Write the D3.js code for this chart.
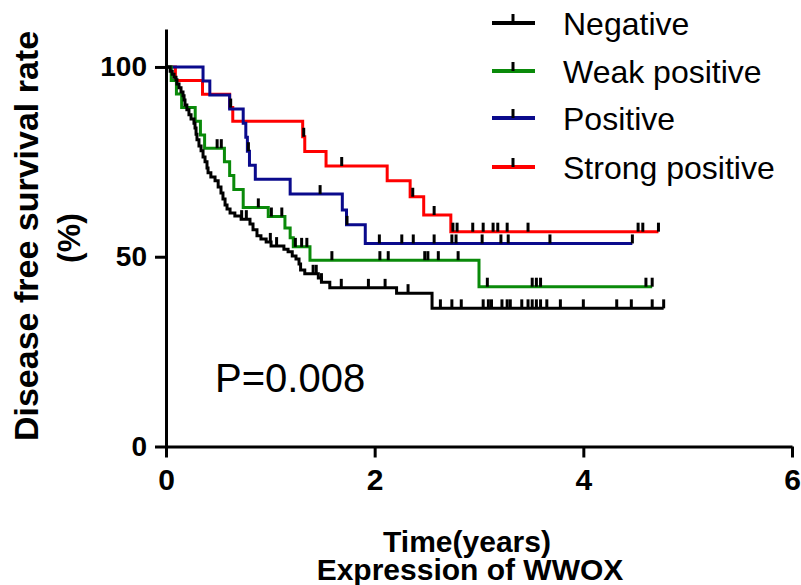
<!DOCTYPE html>
<html>
<head>
<meta charset="utf-8">
<script src="https://cdn.jsdelivr.net/npm/d3@7"></script>
<style>
  body { margin: 0; background: #fff; }
  svg { display: block; font-family: "Liberation Sans", Arial, sans-serif; }
</style>
</head>
<body>
<svg width="801" height="585"></svg>
<script>
// groups and colours
var groups = ["Negative", "Weak positive", "Positive", "Strong positive"];
var colors = ["#000000", "#0a8a0a", "#0a0a8c", "#ff0000"];

// Negative: event times (years) and survival (%) after each drop, censored times
var negT = [0.04,0.06,0.077,0.096,0.105,0.125,0.144,0.163,0.173,0.182,0.20,0.22,0.24,0.268,0.278,0.288,0.297,0.316,0.336,0.355,0.374,0.393,0.403,0.43,0.47,0.50,0.527,0.546,0.566,0.585,0.614,0.66,0.72,0.805,0.834,0.872,0.91,0.96,1.007,1.13,1.17,1.21,1.246,1.275,1.29,1.33,1.46,1.49,1.57,2.21,2.55];
var negS = [98.9,98.1,97.3,96.6,95.5,94.5,93.4,92.4,91.3,90.0,88.7,87.4,86.3,85.2,83.9,82.3,80.8,79.2,77.9,76.3,75.0,73.4,72.1,71.0,70.0,68.4,66.8,65.2,63.6,62.6,61.5,60.7,59.9,58.6,57.1,55.5,54.7,53.9,52.8,52.0,51.3,50.2,49.4,48.1,46.5,45.5,44.4,43.3,41.8,40.4,36.4];
var negC = [0.725,0.77,1.0,1.06,1.41,1.44,1.49,1.68,1.94,2.10,2.32,2.63,2.74,2.83,3.04,3.09,3.12,3.22,3.27,3.30,3.41,3.47,3.51,3.55,3.59,3.65,3.78,4.00,4.32,4.46,4.66,4.77];

// Weak positive
var wkT = [0.05,0.10,0.15,0.28,0.33,0.37,0.56,0.61,0.65,0.74,0.98,1.14,1.19,1.22,1.38,3.0];
var wkS = [96.4,92.9,89.3,85.7,82.1,78.6,75.0,71.4,67.7,63.0,60.6,57.6,55.0,52.6,49.1,42.1];
var wkC = [0.49,0.53,0.885,1.01,1.11,1.24,1.30,1.35,1.59,2.05,2.13,2.48,2.51,2.61,2.80,3.08,3.51,3.55,3.59,4.60,4.66];

// Positive
var posT = [0.355,0.42,0.61,0.74,0.765,0.78,0.80,0.856,1.19,1.69,1.73,1.91];
var posS = [96.3,92.6,88.9,85.2,81.5,77.8,74.1,70.4,66.5,62.3,58.4,53.5];
var posC = [0.79,1.477,1.735,2.045,2.26,2.37,2.57,2.74,2.78,3.03,3.21,3.28,3.68,4.47];

// Strong positive
var strT = [0.09,0.35,0.61,0.64,1.31,1.33,1.534,2.12,2.34,2.47,2.73];
var strS = [96.4,92.8,89.3,85.7,81.6,77.7,73.9,70.0,65.8,61.0,56.6];
var strC = [0.62,1.32,1.684,2.365,2.57,2.75,2.79,2.94,3.04,3.135,3.18,3.27,3.47,4.525,4.57,4.72];

var xTicks = [0, 2, 4, 6];
var yTicks = [0, 50, 100];

var series = [
  {name: groups[0], color: colors[0], t: negT, s: negS, c: negC},
  {name: groups[1], color: colors[1], t: wkT, s: wkS, c: wkC},
  {name: groups[2], color: colors[2], t: posT, s: posS, c: posC},
  {name: groups[3], color: colors[3], t: strT, s: strS, c: strC}
];

var svg = d3.select("svg");
var x = d3.scaleLinear().domain([0, 6]).range([166, 792]);
var y = d3.scaleLinear().domain([0, 110]).range([446.5, 29]);

function survAt(d, t) {
  var v = 100;
  for (var i = 0; i < d.t.length; i++) {
    if (d.t[i] <= t) v = d.s[i];
  }
  return v;
}

var line = d3.line()
  .x(function(p) { return x(p[0]); })
  .y(function(p) { return y(p[1]); })
  .curve(d3.curveStepAfter);

// draw from last to first so black ends on top
var drawOrder = series.slice().reverse();
var g = svg.append("g");

drawOrder.forEach(function(d) {
  var pts = [[0, 100]];
  d.t.forEach(function(t, i) { pts.push([t, d.s[i]]); });
  var tEnd = d3.max(d.c);
  pts.push([tEnd, d.s[d.s.length - 1]]);
  g.append("path")
    .attr("d", line(pts))
    .attr("fill", "none")
    .attr("stroke", d.color)
    .attr("stroke-width", 3);
});

// censor marks
drawOrder.forEach(function(d) {
  g.selectAll(null)
    .data(d.c)
    .enter().append("line")
    .attr("x1", function(t) { return x(t); })
    .attr("x2", function(t) { return x(t); })
    .attr("y1", function(t) { return y(survAt(d, t)); })
    .attr("y2", function(t) { return y(survAt(d, t)) - 9; })
    .attr("stroke", "#000")
    .attr("stroke-width", 3);
});

// axes
var yAxis = svg.append("g")
  .attr("transform", "translate(166,0)")
  .call(d3.axisLeft(y).tickValues(yTicks).tickSize(11).tickSizeOuter(0).tickPadding(8));
var xAxis = svg.append("g")
  .attr("transform", "translate(0,446.5)")
  .call(d3.axisBottom(x).tickValues(xTicks).tickFormat(d3.format("d"))
    .tickSize(11).tickSizeOuter(0).tickPadding(11));

[xAxis, yAxis].forEach(function(a) {
  a.selectAll("path, line").attr("stroke", "#000").attr("stroke-width", 3);
  a.selectAll("text")
    .attr("fill", "#000")
    .style("font-family", "'Liberation Sans', Arial, sans-serif")
    .style("font-weight", "bold")
    .style("font-size", "28px");
});
xAxis.selectAll("text").style("font-size", "30px");

// titles
svg.append("text")
  .attr("transform", "translate(38,236) rotate(-90)")
  .attr("text-anchor", "middle")
  .style("font-weight", "bold").style("font-size", "34px")
  .text("Disease free survival rate");
svg.append("text")
  .attr("transform", "translate(80,238) rotate(-90)")
  .attr("text-anchor", "middle")
  .style("font-weight", "bold").style("font-size", "32px")
  .text("(%)");

svg.append("text")
  .attr("x", 467).attr("y", 552)
  .attr("text-anchor", "middle")
  .style("font-weight", "bold").style("font-size", "30px")
  .text("Time(years)");
svg.append("text")
  .attr("x", 470).attr("y", 580)
  .attr("text-anchor", "middle")
  .style("font-weight", "bold").style("font-size", "30px")
  .text("Expression of WWOX");

svg.append("text")
  .attr("x", 215).attr("y", 392)
  .style("font-size", "40px")
  .text("P=0.008");

// legend
var legY = [23, 71, 118, 167];
var leg = svg.selectAll(".leg")
  .data(series)
  .enter().append("g")
  .attr("class", "leg")
  .attr("transform", function(d, i) { return "translate(0," + legY[i] + ")"; });
leg.append("line")
  .attr("x1", 492).attr("x2", 535)
  .attr("stroke", function(d) { return d.color; })
  .attr("stroke-width", 4);
leg.append("line")
  .attr("x1", 513).attr("x2", 513).attr("y1", 0).attr("y2", -9)
  .attr("stroke", "#000").attr("stroke-width", 3);
leg.append("text")
  .attr("x", 563).attr("y", 11.5)
  .style("font-size", "32px")
  .text(function(d) { return d.name; });
</script>
</body>
</html>
